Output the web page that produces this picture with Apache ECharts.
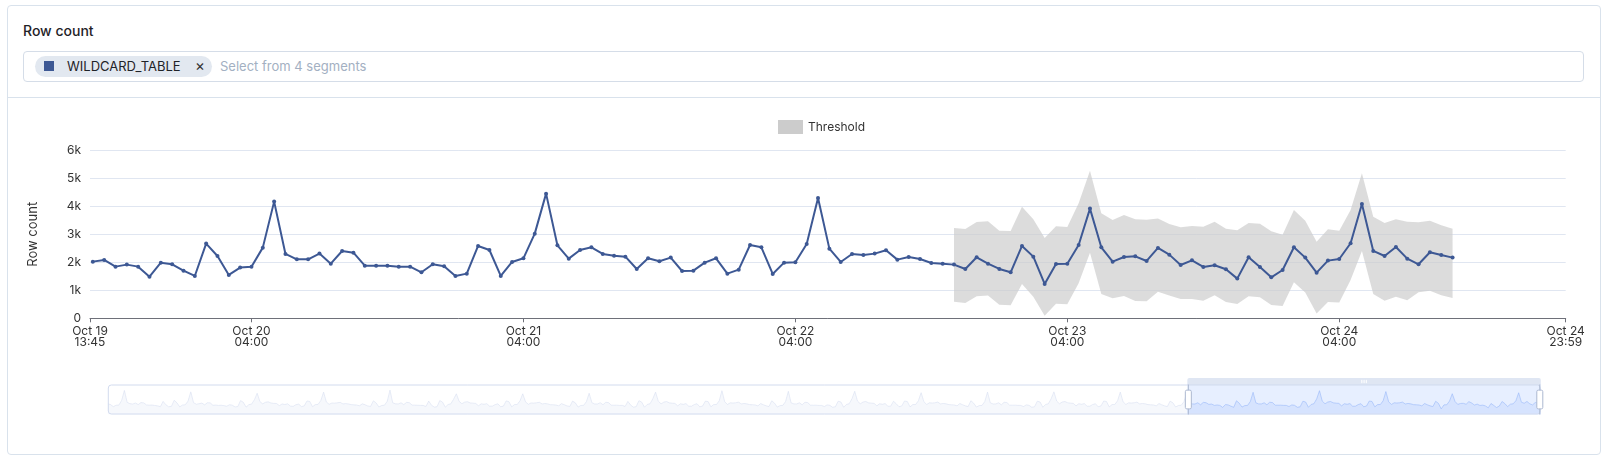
<!DOCTYPE html>
<html>
<head>
<meta charset="utf-8">
<script src="https://cdn.jsdelivr.net/npm/echarts@6/dist/echarts.min.js"></script>
<style>
  html, body { margin:0; padding:0; background:#fff; width:1606px; height:463px; overflow:hidden; font-family: Inter, "Noto Sans", sans-serif; }
  #card { position:absolute; left:7px; top:5px; width:1594px; height:450px; box-sizing:border-box; border:1px solid #d9e2ec; border-radius:4px; }
  #title { position:absolute; left:23px; top:22px; font-size:14px; line-height:18px; color:#1f2328; font-weight:500; }
  #box { position:absolute; left:23px; top:51px; width:1561px; height:31px; box-sizing:border-box; border:1px solid #d5dde8; border-radius:4px; }
  #chip { position:absolute; left:35px; top:56px; width:177px; height:21px; background:#e2e8f0; border-radius:11px; }
  #sq { position:absolute; left:44px; top:61px; width:10px; height:10px; background:#3d5894; }
  #chipText { position:absolute; left:67px; top:57px; font-size:13px; line-height:19px; color:#1f2328; }
  #x { position:absolute; left:195px; top:56px; font-size:15px; line-height:20px; color:#333; }
  #ph { position:absolute; left:220px; top:57px; font-size:13px; line-height:19px; color:#a3b0c2; }
  #sep { position:absolute; left:7px; top:97px; width:1594px; height:1px; background:#d9e2ec; }
  #chart { position:absolute; left:0; top:0; width:1606px; height:463px; }
</style>
</head>
<body>
<div id="card"></div>
<div id="title">Row count</div>
<div id="box"></div>
<div id="chip"></div>
<div id="sq"></div>
<div id="chipText">WILDCARD_TABLE</div>
<div id="x">×</div>
<div id="ph">Select from 4 segments</div>
<div id="sep"></div>
<div id="chart"></div>
<script>
// ---------- DATA ----------
// hourly row counts, Oct 3 00:00 .. Oct 19 13:00 (estimated from the zoom slider overview)
const oct03 = [2150,1980,1620,1870,1900,2700,4500,2380,2150,2080,2260,1990,2350,2280,1920,1880,1900,1830,1760,1620,2550,1950,1600,1680];
const oct04 = [2750,2300,1580,1900,1960,2600,4250,2320,2060,2140,2250,1940,2310,2290,1860,1900,1840,1870,1800,1700,1960,1880,1560,1640];
const oct05 = [2700,2380,1540,1980,2080,2850,4000,2500,2120,2400,2480,2260,2200,2180,1800,2100,2000,2120,1720,1680,1960,2080,1620,1760];
const oct06 = [2620,2550,1600,1980,2020,2700,4200,2450,2040,2260,2240,2300,2380,2100,2160,2100,1980,1940,1900,1780,2120,1960,1740,1660];
const oct07 = [2650,2280,1560,1820,1880,2560,4550,2300,2120,2100,2300,1980,2380,2320,1900,1880,1870,1850,1830,1660,2600,1880,1540,1600];
const oct08 = [2700,2420,1530,2000,2120,2950,3900,2560,2140,2420,2500,2280,2240,2190,1780,2120,2040,2150,1700,1710,1990,2120,1600,1720];
const oct09 = [2640,2500,1580,1990,2010,2650,3900,2470,2030,2280,2250,2300,2400,2090,2180,2110,1970,1950,1910,1770,2150,1960,1750,1650];
const oct10 = [2600,2300,1550,1830,1860,2500,4000,2320,2100,2090,2320,1960,2400,2330,1890,1870,1880,1840,1850,1650,2550,1900,1530,1620];
const oct11 = [2680,2420,1520,2010,2130,3000,4200,2580,2120,2430,2520,2290,2230,2200,1770,2130,2030,2160,1690,1700,2000,2140,1590,1730];
const oct12 = [2600,2520,1590,1980,2000,2640,4450,2480,2020,2290,2260,2310,2420,2100,2180,2120,1980,1960,1920,1760,2170,1950,1760,1640];
const oct13 = [2660,2240,1550,1800,1850,2520,4350,2300,2110,2100,2300,1950,2400,2340,1880,1880,1880,1840,1840,1640,1930,1860,1510,1600];
const oct14 = [2580,2450,1510,2010,2140,3020,4350,2600,2130,2440,2530,2300,2240,2200,1760,2140,2040,2170,1690,1700,2580,2140,1600,1740];
const oct15 = [2620,2530,1580,1990,2000,2650,4100,2490,2010,2300,2260,2310,2430,2100,2190,2120,1980,1950,1920,1760,2180,1950,1760,1640];
const oct16 = [2670,2230,1550,1810,1840,2520,4200,2300,2100,2100,2310,1950,2400,2350,1880,1880,1880,1850,1840,1640,1930,1860,1510,1600];
const oct17 = [2590,2440,1510,2010,2140,3020,4250,2610,2130,2440,2530,2300,2240,2200,1760,2140,2040,2170,1690,1700,1990,2140,1600,1740];
const oct18 = [2620,2530,1580,1990,2000,2650,4200,2490,2010,2300,2260,2310,2430,2100,2190,2120,1980,1950,1920,1760,2180,1950,1760,1640];
const oct19am = [2600,2300,1560,1830,1860,2500,4100,2300,2110,2090,2310,1960,2380,2320];
// hourly row counts, Oct 19 14:00 .. Oct 24 14:00 (visible window)
const recent = [2024,2083,1845,1917,1845,1488,1988,1929,1702,1512,2667,2226,1548,1810,1845,2524,4167,2298,2107,2107,2310,1952,2405,2345,
  1881,1881,1881,1845,1845,1643,1929,1857,1512,1595,2583,2440,1512,2012,2143,3024,4452,2607,2131,2440,2536,2298,2238,2202,
  1762,2143,2036,2167,1690,1702,1988,2143,1595,1738,2619,2536,1583,1988,2000,2655,4298,2488,2012,2298,2262,2310,2429,2095,
  2190,2119,1976,1952,1917,1762,2179,1952,1762,1643,2583,2202,1226,1940,1952,2619,3917,2536,2024,2190,2214,2048,2512,2274,
  1905,2071,1833,1893,1750,1417,2179,1833,1464,1726,2536,2167,1631,2060,2119,2679,4083,2405,2226,2548,2131,1929,2357,2262,2167];
// threshold band, Oct 22 18:00 .. Oct 24 14:00
const thresholdUpper = [3226,3190,3440,3464,3131,3119,3988,3536,2869,3286,3262,4107,5274,3750,3512,3690,3536,3524,3560,3369,3250,
  3298,3274,3452,3202,3143,3405,3381,3107,2988,3869,3488,2738,3179,3131,3869,5179,3631,3405,3536,3452,3429,3488,3321,3202];
const thresholdLower = [595,548,786,810,488,464,1226,774,95,524,500,1250,2345,869,714,798,619,607,952,810,690,
  690,631,821,583,512,786,750,476,440,1286,917,167,583,560,1369,2405,869,631,774,643,929,988,821,726];
const dataStart = '2023-10-03T00:00';
const thresholdStart = '2023-10-22T18:00';
const axisStart = '2023-10-03T00:00';
const axisEnd = '2023-10-24T23:59';
const viewStart = '2023-10-19T13:45';
const tickTimes = ['2023-10-19T13:45','2023-10-20T04:00','2023-10-21T04:00','2023-10-22T04:00','2023-10-23T04:00','2023-10-24T04:00','2023-10-24T23:59'];
const MONTHS = ['Jan','Feb','Mar','Apr','May','Jun','Jul','Aug','Sep','Oct','Nov','Dec'];

// ---------- BUILD ----------
const T = s => Date.parse(s + ':00Z');
const H = 3600000;
const allValues = [].concat(oct03,oct04,oct05,oct06,oct07,oct08,oct09,oct10,oct11,oct12,oct13,oct14,oct15,oct16,oct17,oct18,oct19am,recent);
const t0 = T(dataStart);
const mainData = allValues.map((v,i)=>[t0 + i*H, v]);
const th0 = T(thresholdStart);
const bandData = thresholdUpper.map((v,i)=>[th0 + i*H, thresholdLower[i], v]);
const ticks = tickTimes.map(T);
const tickVals = ticks.map((v,i)=> i===0 ? v + 1000 : (i===ticks.length-1 ? v - 1000 : v));
const pad = n => (n<10?'0':'')+n;
function fmtX(v){
  const d = new Date(Math.round(v/60000)*60000);
  return MONTHS[d.getUTCMonth()] + ' ' + d.getUTCDate() + '\n' + pad(d.getUTCHours()) + ':' + pad(d.getUTCMinutes());
}
function renderBand(params, api){
  if (params.dataIndexInside !== 0) return null;
  const up = [], lo = [];
  for (let i = 0; i < bandData.length; i++) {
    up.push(api.coord([bandData[i][0], bandData[i][2]]));
    lo.push(api.coord([bandData[i][0], bandData[i][1]]));
  }
  return {
    type: 'polygon',
    shape: { points: up.concat(lo.reverse()) },
    style: { fill: '#cccccc', opacity: 0.68 },
    silent: true
  };
}
const FONT = 'Inter';
const chart = echarts.init(document.getElementById('chart'), null, {renderer:'canvas'});
chart.setOption({
  animation: false,
  backgroundColor: 'transparent',
  textStyle: { fontFamily: FONT },
  legend: {
    left: 773, top: 115, itemWidth: 25, itemHeight: 14, itemGap: 10,
    textStyle: { fontSize: 12, color: '#333', fontFamily: FONT },
    data: [{ name: 'Threshold', icon: 'rect', itemStyle: { color: '#cccccc' } }]
  },
  grid: { left: 90, top: 150.3, width: 1475.7, height: 168, containLabel: false },
  xAxis: {
    type: 'value',
    min: T(axisStart), max: T(axisEnd),
    axisLine: { show: true, lineStyle: { color: '#6E7079', width: 1 } },
    axisTick: { show: true, customValues: tickVals, length: 4, lineStyle: { color: '#6E7079' } },
    axisLabel: { customValues: tickVals, formatter: fmtX, color: '#333', fontSize: 12, lineHeight: 11, margin: 8, fontFamily: FONT, hideOverlap: false },
    splitLine: { show: false }
  },
  yAxis: {
    type: 'value', min: 0, max: 6000, interval: 1000,
    name: 'Row count', nameLocation: 'middle', nameGap: 50,
    nameTextStyle: { fontSize: 13, color: '#333', fontFamily: FONT },
    axisLine: { show: false }, axisTick: { show: false },
    axisLabel: { color: '#333', fontSize: 12, margin: 9, fontFamily: FONT, formatter: v => v === 0 ? '0' : (v/1000) + 'k' },
    splitLine: { show: true, lineStyle: { color: '#E0E6F1', width: 1 } }
  },
  dataZoom: [{
    type: 'slider', xAxisIndex: 0, filterMode: 'filter',
    startValue: T(viewStart), endValue: T(axisEnd),
    left: 105, right: 68, top: 378, height: 30,
    showDetail: false, brushSelect: true,
    borderColor: '#d2dbee', borderRadius: 3, backgroundColor: 'rgba(47,69,84,0)',
    fillerColor: 'rgba(135,175,274,0.2)',
    dataBackground: { lineStyle: { color: '#d2dbee', width: 0.5 }, areaStyle: { color: '#d2dbee', opacity: 0.2 } },
    selectedDataBackground: { lineStyle: { color: '#8fb0f7', width: 0.5 }, areaStyle: { color: '#8fb0f7', opacity: 0.2 } },
    handleIcon: 'path://M-9.35,34.56V42m0-40V9.5m-2,0h4a2,2,0,0,1,2,2v21a2,2,0,0,1-2,2h-4a2,2,0,0,1-2-2v-21A2,2,0,0,1-11.35,9.5Z',
    handleSize: '100%',
    handleStyle: { color: '#fff', borderColor: '#ACB8D1' },
    moveHandleSize: 7,
    moveHandleStyle: { color: '#D2DBEE', opacity: 0.7 },
    emphasis: { handleStyle: { borderColor: '#8FB0F7' }, moveHandleStyle: { color: '#8FB0F7' } }
  }],
  series: [
    {
      name: 'Row count', type: 'line', data: mainData,
      color: '#3d5894',
      lineStyle: { color: '#3d5894', width: 2 },
      itemStyle: { color: '#3d5894' },
      symbol: 'circle', symbolSize: 4, showSymbol: true,
      z: 5
    },
    {
      name: 'Threshold', type: 'custom', data: bandData,
      encode: { x: 0, y: [1, 2] },
      renderItem: renderBand,
      itemStyle: { color: '#cccccc' },
      clip: true, silent: true, z: 2
    }
  ]
});
</script>
</body>
</html>
